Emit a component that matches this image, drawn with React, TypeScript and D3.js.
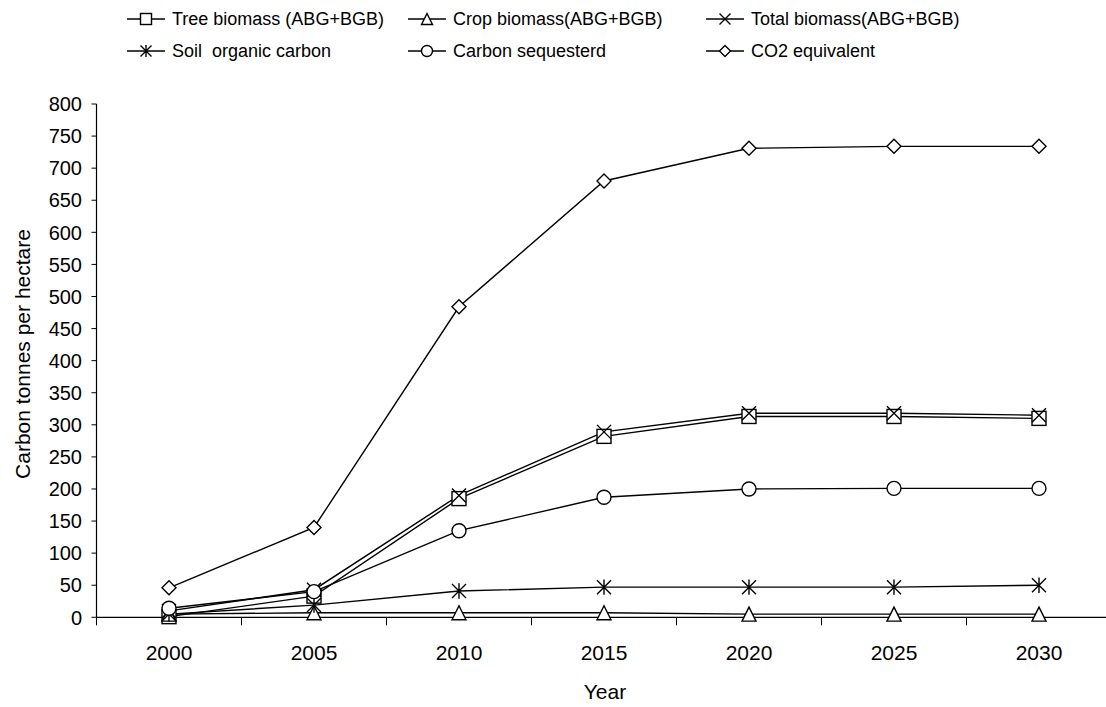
import React from "react";
import * as d3 from "d3";

const years = ["2000", "2005", "2010", "2015", "2020", "2025", "2030"];
const treeBiomass = [1, 33, 185, 282, 313, 313, 310];
const cropBiomass = [5, 7, 7, 7, 5, 5, 5];
const totalBiomass = [10, 43, 190, 289, 318, 318, 315];
const soilCarbon = [5, 19, 41, 47, 47, 47, 50];
const carbonSeq = [14, 40, 135, 187, 200, 201, 201];
const co2Equiv = [46, 140, 484, 680, 731, 734, 734];
const yTicks = d3.range(0, 801, 50);

type Shape = "square" | "triangle" | "x" | "star" | "circle" | "diamond";
const series: { name: string; values: number[]; shape: Shape }[] = [
  { name: "Tree biomass (ABG+BGB)", values: treeBiomass, shape: "square" },
  { name: "Crop biomass(ABG+BGB)", values: cropBiomass, shape: "triangle" },
  { name: "Total biomass(ABG+BGB)", values: totalBiomass, shape: "x" },
  { name: "Soil  organic carbon", values: soilCarbon, shape: "star" },
  { name: "Carbon sequesterd", values: carbonSeq, shape: "circle" },
  { name: "CO2 equivalent", values: co2Equiv, shape: "diamond" },
];

function Marker({ shape, x, y, s }: { shape: Shape; x: number; y: number; s: number }) {
  const h = s / 2;
  const common = { stroke: "#000", strokeWidth: 1.4, fill: "#fff" };
  switch (shape) {
    case "square":
      return <rect x={x - h} y={y - h} width={s} height={s} {...common} />;
    case "triangle":
      return <path d={`M${x},${y - h}L${x + h},${y + h}L${x - h},${y + h}Z`} {...common} />;
    case "circle":
      return <circle cx={x} cy={y} r={h} {...common} />;
    case "diamond":
      return <path d={`M${x},${y - h}L${x + h},${y}L${x},${y + h}L${x - h},${y}Z`} {...common} />;
    case "x":
      return <path d={`M${x - h},${y - h}L${x + h},${y + h}M${x - h},${y + h}L${x + h},${y - h}`} stroke="#000" strokeWidth={1.4} fill="none" />;
    case "star":
      return (
        <path
          d={`M${x - h},${y - h}L${x + h},${y + h}M${x - h},${y + h}L${x + h},${y - h}M${x},${y - h * 1.1}L${x},${y + h * 1.1}`}
          stroke="#000"
          strokeWidth={1.4}
          fill="none"
        />
      );
  }
}

export default function App() {
  const W = 1106, H = 707;
  const x0 = 96.5, x1 = 1111.5;
  const x = d3.scaleBand<string>().domain(years).range([x0, x1]);
  const y = d3.scaleLinear().domain([0, 800]).range([617.3, 104]);
  const line = d3
    .line<number>()
    .x((_, i) => (x(years[i]) as number) + x.bandwidth() / 2)
    .y((d) => y(d));
  const font = "Arial, 'Liberation Sans', sans-serif";
  const legendCols = [127, 408, 706];
  const legendRows = [19, 51];
  return (
    <svg width={W} height={H} style={{ position: "absolute", left: 0, top: 0, background: "#fff" }} fontFamily={font}>
      {/* axes */}
      <line x1={x0} x2={x0} y1={y(800)} y2={y(0)} stroke="#000" strokeWidth={1.2} />
      <line x1={x0} x2={x1} y1={y(0)} y2={y(0)} stroke="#000" strokeWidth={1.2} />
      {yTicks.map((t) => (
        <g key={t}>
          <line x1={x0 - 5} x2={x0} y1={y(t)} y2={y(t)} stroke="#000" strokeWidth={1} />
          <text x={82} y={y(t)} dy="0.36em" textAnchor="end" fontSize={20}>
            {t}
          </text>
        </g>
      ))}
      {years.map((yr) => (
        <g key={yr}>
          <line x1={x(yr) as number} x2={x(yr) as number} y1={y(0)} y2={y(0) + 8} stroke="#000" strokeWidth={1} />
          <text x={(x(yr) as number) + x.bandwidth() / 2} y={660} textAnchor="middle" fontSize={21}>
            {yr}
          </text>
        </g>
      ))}
      <text x={605} y={699} textAnchor="middle" fontSize={21}>Year</text>
      <text transform={`translate(30,354) rotate(-90)`} textAnchor="middle" fontSize={21}>
        Carbon tonnes per hectare
      </text>
      {/* lines */}
      {series.map((s) => (
        <path key={s.name} d={line(s.values) || ""} fill="none" stroke="#000" strokeWidth={1.4} />
      ))}
      {series.map((s) =>
        s.values.map((v, i) => (
          <Marker key={s.name + i} shape={s.shape} x={(x(years[i]) as number) + x.bandwidth() / 2} y={y(v)} s={14} />
        ))
      )}
      {/* legend */}
      {series.map((s, i) => {
        const lx = legendCols[i % 3];
        const ly = legendRows[Math.floor(i / 3)];
        return (
          <g key={s.name}>
            <line x1={lx} x2={lx + 38} y1={ly} y2={ly} stroke="#000" strokeWidth={1.4} />
            <Marker shape={s.shape} x={lx + 19} y={ly} s={11} />
            <text x={lx + 45} y={ly} dy="0.36em" fontSize={18} style={{ whiteSpace: "pre" }}>
              {s.name}
            </text>
          </g>
        );
      })}
    </svg>
  );
}
